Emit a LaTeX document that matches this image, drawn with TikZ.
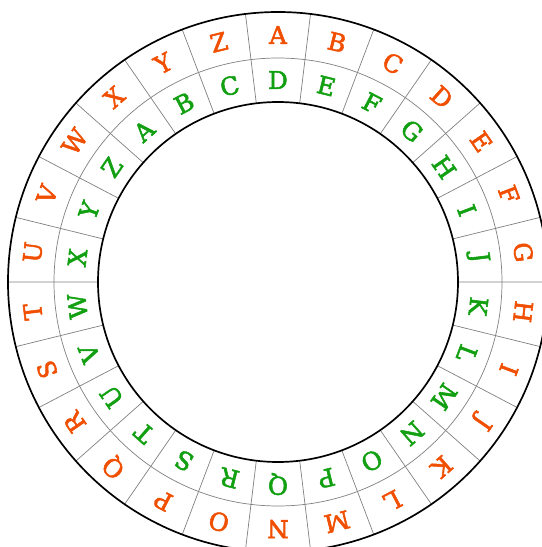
\documentclass[tikz,border=0pt]{standalone}
\usepackage{fontspec}
\setmainfont{DejaVu Serif}
\newfontfamily\wheelfont{DejaVu Serif}[FakeBold=2.2]
\usepackage{tikz}
\definecolor{outred}{RGB}{240,78,0}
\definecolor{ingreen}{RGB}{18,160,18}

\begin{document}
\begin{tikzpicture}[letter/.style={font=\wheelfont\fontsize{17.5}{21}\selectfont}]
\useasboundingbox (-6.95,-6.625) rectangle (6.575,7.05);
% sector borders
\foreach \k in {0,...,25}
  \draw[gray, line width=0.5pt] ({96.923-\k*13.846}:4.5) -- ({96.923-\k*13.846}:6.75);
\draw[gray, line width=0.5pt] (0,0) circle (5.6);
\draw[line width=1.2pt] (0,0) circle (4.5);
\draw[line width=1.2pt] (0,0) circle (6.75);
% outer and inner alphabet, inner one shifted by 3
\foreach \l [count=\i from 0] in {A,...,Z} {
  \node[letter, text=outred, rotate={-\i*13.846}] (out-\l) at ({90-\i*13.846}:6.175) {\l};
  \node[letter, text=ingreen, rotate={-(\i-3)*13.846}] (in-\l) at ({90-(\i-3)*13.846}:5.05) {\l};
}
\end{tikzpicture}
\end{document}
